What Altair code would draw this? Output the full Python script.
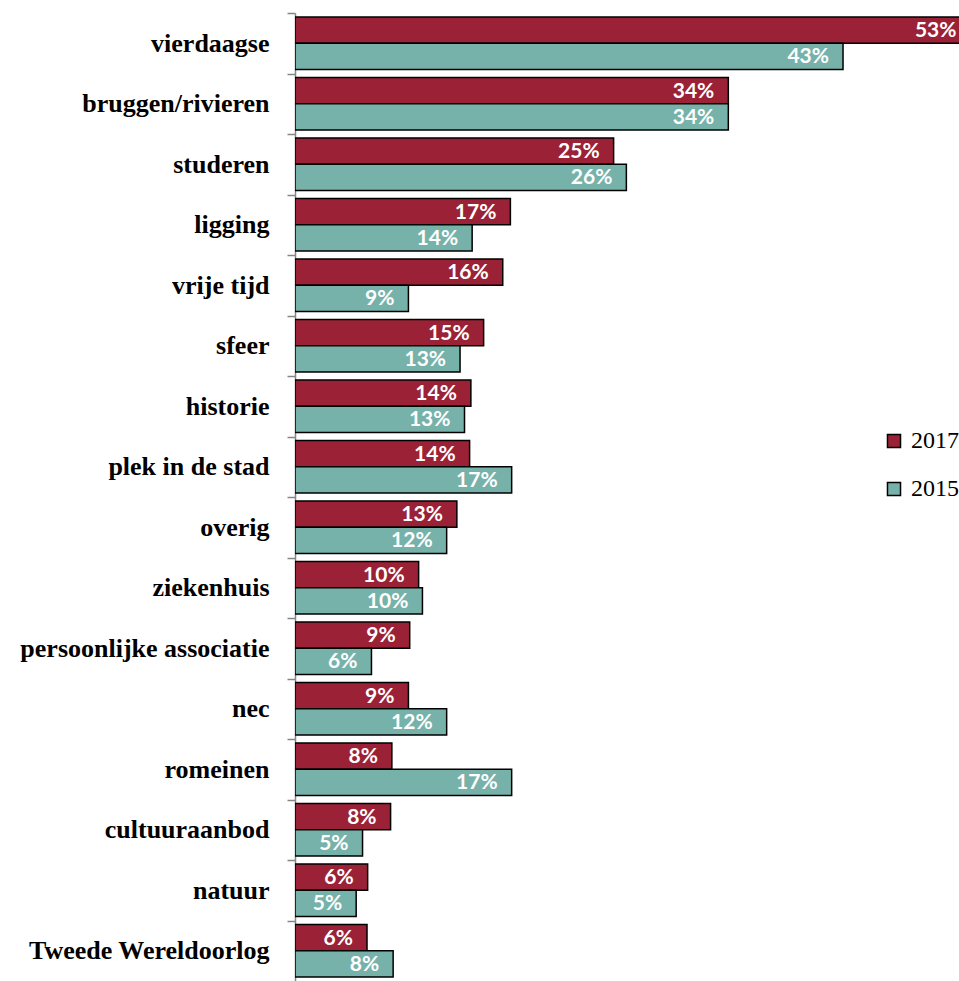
import altair as alt
import pandas as pd

categories = ["vierdaagse", "bruggen/rivieren", "studeren", "ligging", "vrije tijd", "sfeer",
              "historie", "plek in de stad", "overig", "ziekenhuis", "persoonlijke associatie",
              "nec", "romeinen", "cultuuraanbod", "natuur", "Tweede Wereldoorlog"]
v2017 = [53.0, 34.0, 25.0, 16.9, 16.3, 14.8, 13.8, 13.7, 12.7, 9.7, 9.0, 8.9, 7.6, 7.5, 5.7, 5.65]
v2015 = [43.0, 34.0, 26.0, 13.9, 8.9, 12.95, 13.3, 17.0, 11.9, 10.0, 6.0, 11.9, 17.0, 5.3, 4.8, 7.7]
l2017 = ["53%", "34%", "25%", "17%", "16%", "15%", "14%", "14%", "13%", "10%", "9%", "9%", "8%", "8%", "6%", "6%"]
l2015 = ["43%", "34%", "26%", "14%", "9%", "13%", "13%", "17%", "12%", "10%", "6%", "12%", "17%", "5%", "5%", "8%"]
years = ["2017", "2015"]
colors = ["#9B2236", "#76B2AA"]

rows = []
for c, a, b, la, lb in zip(categories, v2017, v2015, l2017, l2015):
    rows.append({"cat": c, "year": "2017", "value": a, "label": la})
    rows.append({"cat": c, "year": "2015", "value": b, "label": lb})
df = pd.DataFrame(rows)

y = alt.Y("cat:N", sort=categories, title=None,
          scale=alt.Scale(paddingInner=0.13, paddingOuter=0.065),
          axis=alt.Axis(tickOffset=-30.25, labelOffset=30.25, tickSize=8, tickColor="#868686",
                        tickWidth=1.5, domainColor="#868686", domainWidth=1.5,
                        labelFont="Liberation Serif", labelFontWeight="bold", labelFontSize=26,
                        labelColor="black", labelPadding=18, labelLimit=0))
yoff = alt.YOffset("year:N", sort=years, scale=alt.Scale(paddingInner=0, paddingOuter=0))
x = alt.X("value:Q", scale=alt.Scale(domain=[0, 52.1], nice=False, zero=True), axis=None)

bars = alt.Chart(df).mark_bar(stroke="black", strokeWidth=1.5, clip=True).encode(
    x=x, y=y, yOffset=yoff,
    color=alt.Color("year:N", scale=alt.Scale(domain=years, range=colors),
                    legend=alt.Legend(title=None, orient="none", legendX=587, legendY=416,
                                      padding=0, symbolType="square", symbolSize=170,
                                      symbolStrokeColor="black", symbolStrokeWidth=1.5,
                                      labelFont="Liberation Serif", labelFontSize=24,
                                      labelColor="black", rowPadding=24, labelOffset=5,
                                      labelLimit=0)))

text = alt.Chart(df).mark_text(align="right", baseline="middle", dx=-14, dy=1, color="white",
                               font="Lato", fontWeight="bold", fontSize=21).encode(
    x=x, y=y, yOffset=yoff, text="label:N")

chart = (bars + text).properties(
    width=664, height=968,
    autosize=alt.AutoSizeParams(type="none"),
    padding={"left": 295, "top": 13, "right": 0, "bottom": 0},
).configure_view(stroke=None)

chart.save("out.html", embed_options={"renderer": "svg", "actions": False})
